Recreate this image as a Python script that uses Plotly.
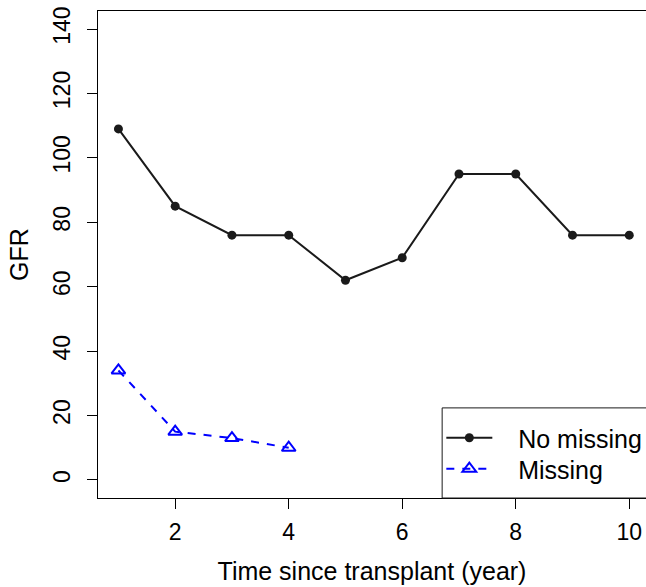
import plotly.graph_objects as go

years = [1, 2, 3, 4, 5, 6, 7, 8, 9, 10]
gfr_no_missing = [109, 85, 76, 76, 62, 69, 95, 95, 76, 76]
years_missing = [1, 2, 3, 4]
gfr_missing = [34, 15, 13, 10]
x_ticks = [2, 4, 6, 8, 10]
y_ticks = [0, 20, 40, 60, 80, 100, 120, 140]

FONT = "Liberation Sans, Arial, Helvetica, sans-serif"
NB = "\u00a0\u00a0\u00a0"

fig = go.Figure()
fig.add_trace(go.Scatter(
    x=years, y=gfr_no_missing, mode="lines+markers", name=NB + "No missing",
    legend="legend",
    line=dict(color="#1a1a1a", width=2),
    marker=dict(symbol="circle", size=9, color="#1a1a1a"),
))
fig.add_trace(go.Scatter(
    x=years_missing, y=gfr_missing, mode="lines+markers", name=NB + "Missing",
    legend="legend2",
    line=dict(color="#0000ff", width=2, dash="8px,8px"),
    marker=dict(symbol="triangle-up-open", size=12, color="#0000ff",
                line=dict(width=2, color="#0000ff")),
))

# legend box
fig.add_shape(type="rect", xref="paper", yref="paper",
              x0=0.628, x1=1.02, y0=0, y1=0.185,
              line=dict(color="#1a1a1a", width=1), fillcolor="white", layer="above")

leg_common = dict(xanchor="left", yanchor="middle", bgcolor="rgba(0,0,0,0)",
                  borderwidth=0, font=dict(size=25, family=FONT),
                  itemwidth=46, itemsizing="trace")

fig.update_layout(
    width=646, height=587,
    margin=dict(l=98, r=0, t=11, b=89, autoexpand=False),
    paper_bgcolor="white", plot_bgcolor="white",
    font=dict(family=FONT, size=22, color="black"),
    showlegend=True,
    legend=dict(x=0.6265, y=(498 - 438) / 487, **leg_common),
    legend2=dict(x=0.6265, y=(498 - 469) / 487, **leg_common),
    xaxis=dict(range=[0.64, 10.295], tickvals=x_ticks, ticks="outside",
               ticklen=10, tickcolor="black", showline=True, linecolor="black",
               linewidth=1, mirror=True, showgrid=False, zeroline=False,
               tickfont=dict(size=23), ticklabelstandoff=3, automargin=False,
               title=dict(text="Time since transplant (year)",
                          font=dict(size=25), standoff=18)),
    yaxis=dict(range=[-5.6, 145.6], tickvals=y_ticks, ticks="outside",
               ticklen=10, tickcolor="black", showline=True, linecolor="black",
               linewidth=1, mirror=True, showgrid=False, zeroline=False,
               tickangle=-90, tickfont=dict(size=23), ticklabelstandoff=8,
               automargin=False,
               title=dict(text="GFR", font=dict(size=25), standoff=13)),
)

fig.write_html("out.html")
